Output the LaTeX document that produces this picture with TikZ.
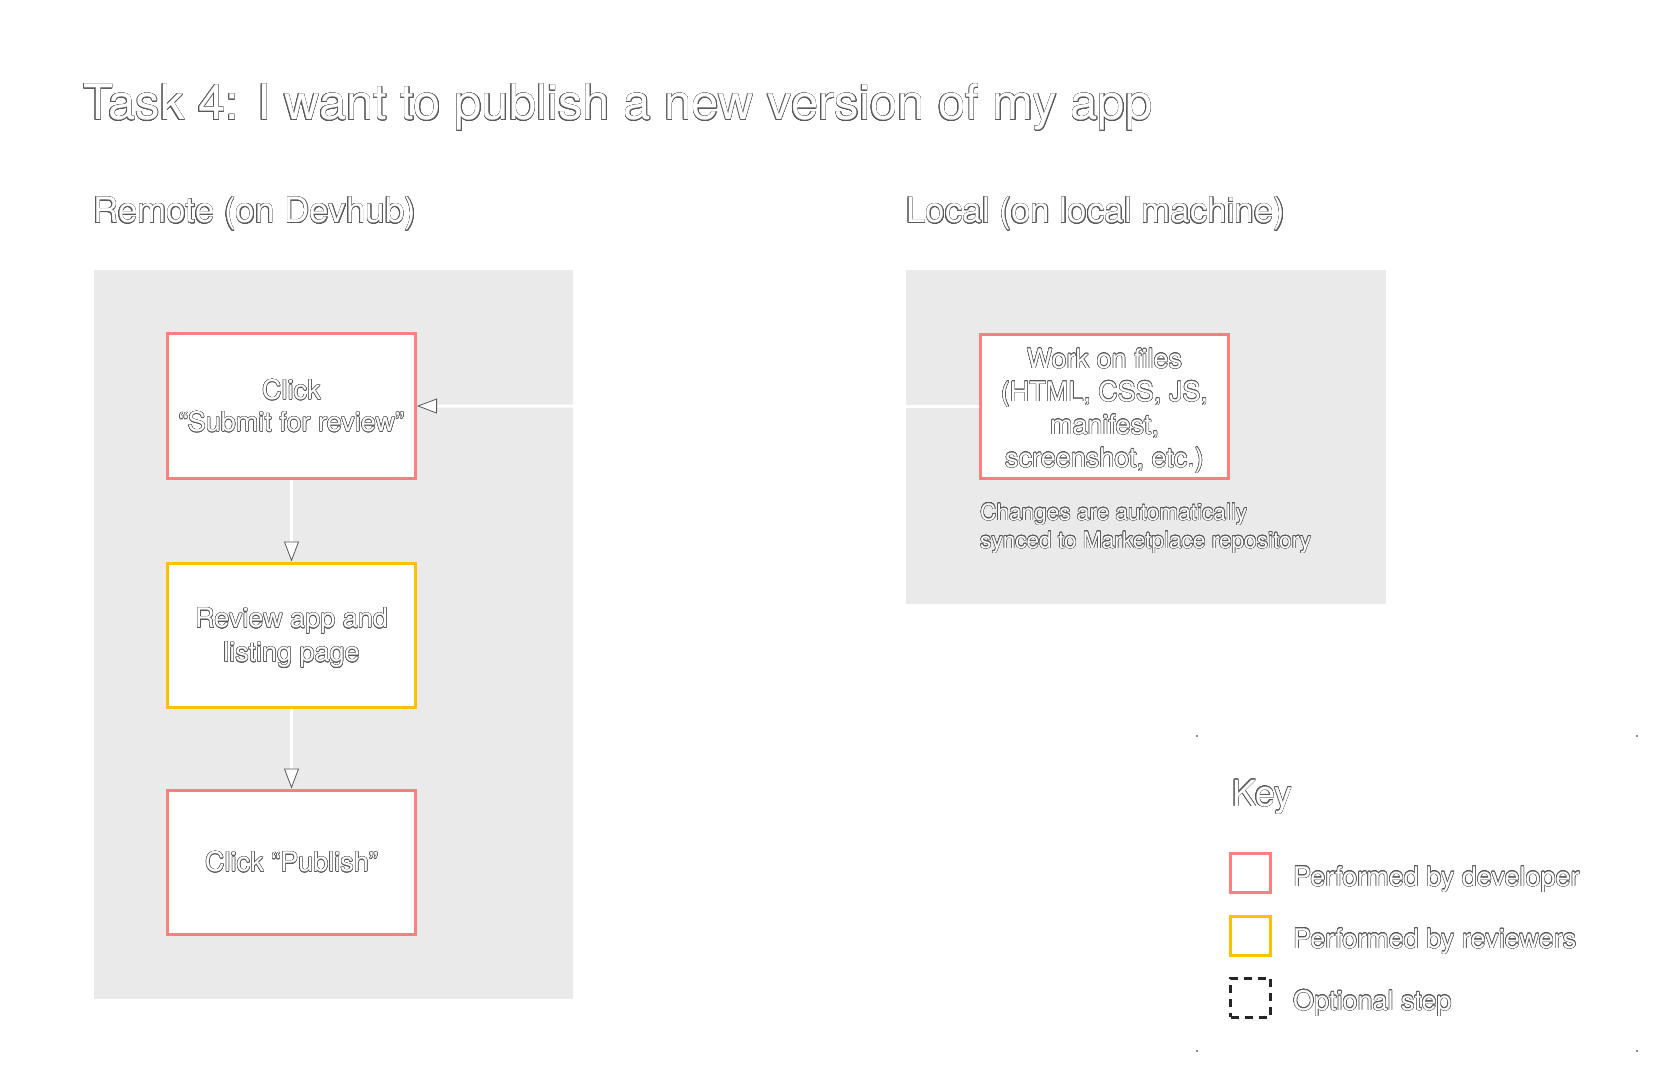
\documentclass[tikz,border=0pt]{standalone}
\usepackage{fontspec}
\setmainfont{TeX Gyre Heros}
\usepackage{contour}
\usetikzlibrary{arrows.meta}
\definecolor{panel}{HTML}{EAEAEA}
\definecolor{devred}{HTML}{FF7F7F}
\definecolor{revyel}{HTML}{FFC000}
\definecolor{outl}{gray}{0.35}
\contourlength{0.5pt}
\contournumber{20}
\newcommand{\otx}[1]{\contour{outl}{#1}}
\begin{document}
\begin{tikzpicture}[x=1pt,y=-1pt,
  panelbox/.style={fill=panel, draw=none},
  stepbox/.style={draw=#1, line width=3pt, fill=white, minimum width=248pt, minimum height=144pt,
    inner sep=0pt, align=center, text=white, font=\fontsize{27}{32}\selectfont},
  keybox/.style={draw=#1, line width=3pt, fill=white, minimum width=40pt, minimum height=39pt, inner sep=0pt},
  flow/.style={draw=white, line width=3pt,
    -{Triangle[length=20pt,width=15pt,color=outl,fill=white,line width=0.8pt]}},
  lbl/.style={text=white, inner sep=0pt, anchor=base west},
  dotmark/.style={fill=black!45, minimum size=1.6pt, inner sep=0pt}
]
\useasboundingbox (0,0) rectangle (1666,1083);
\fill[white] (0,0) rectangle (1666,1083);

% title and headings
\node[lbl, font=\fontsize{49}{56}\selectfont] (title) at (83,120) {\otx{Task 4: I want to publish a new version of my app}};
\node[lbl, font=\fontsize{35}{40}\selectfont] (remotehd) at (93,223) {\otx{Remote (on Devhub)}};
\node[lbl, font=\fontsize{35}{40}\selectfont] (localhd) at (906,223) {\otx{Local (on local machine)}};

% panels
\fill[panelbox] (93.5,270) rectangle (572.5,999);
\fill[panelbox] (906,270) rectangle (1385.5,603.5);

% steps
\node[stepbox=devred] (submit) at (291.5,406) {\otx{Click}\\\otx{“Submit for review”}};
\node[stepbox=revyel, font=\fontsize{27}{34}\selectfont, text depth=0pt] (review) at (291.5,635) {\otx{Review app and}\\\otx{listing page}\rule[-6pt]{0pt}{0pt}};
\node[stepbox=devred] (publish) at (291.5,862) {\otx{Click “Publish”}};
\node[stepbox=devred, font=\fontsize{27}{33}\selectfont] (work) at (1104.5,406.5)
  {\rule{0pt}{29pt}\otx{Work on files}\\\otx{(HTML, CSS, JS,}\\\otx{manifest,}\\\otx{screenshot, etc.)}};

\node[lbl, font=\fontsize{22.6}{28}\selectfont] (cap1) at (980,520) {\otx{Changes are automatically}};
\node[lbl, font=\fontsize{22.6}{28}\selectfont] (cap2) at (980,548) {\otx{synced to Marketplace repository}};

% connectors
\draw[flow] (work.west) -- (submit.east);
\draw[flow] (submit.south) -- (review.north);
\draw[flow] (review.south) -- (publish.north);

% key
\node[dotmark] (d1) at (1197,736) {};
\node[dotmark] (d2) at (1637,736) {};
\node[dotmark] (d3) at (1197,1051) {};
\node[dotmark] (d4) at (1637,1051) {};
\node[lbl, font=\fontsize{36}{40}\selectfont] (keyhd) at (1232,806) {\otx{Key}};
\node[keybox=devred] (k1) at (1250.5,873) {};
\node[keybox=revyel] (k2) at (1250.5,935.5) {};
\node[keybox=black!85, dash pattern=on 8pt off 6pt] (k3) at (1250.5,997.5) {};
\node[lbl, font=\fontsize{27}{32}\selectfont] (kt1) at (1293,886) {\otx{Performed by developer}};
\node[lbl, font=\fontsize{27}{32}\selectfont] (kt2) at (1293,948) {\otx{Performed by reviewers}};
\node[lbl, font=\fontsize{27}{32}\selectfont] (kt3) at (1293,1010) {\otx{Optional step}};
\end{tikzpicture}
\end{document}
